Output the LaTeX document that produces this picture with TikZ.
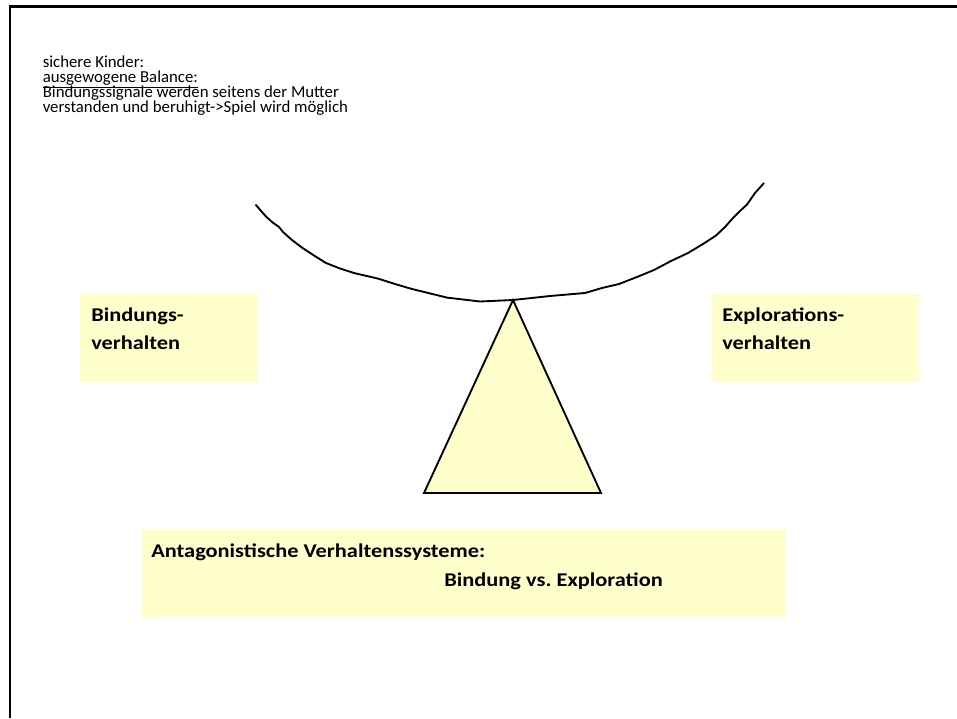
\documentclass[tikz,border=0pt]{standalone}
\usepackage{fontspec}
\setmainfont{Carlito}
\newfontfamily\widesans[FakeStretch=1.15]{Carlito}
\frenchspacing
\definecolor{paleyellow}{HTML}{FFFFCC}
\newcommand{\tightlines}{\lineskiplimit=-100pt\relax}
\begin{document}
\begin{tikzpicture}[x=0.75pt,y=-0.75pt,
  box/.style={fill=paleyellow,draw=none,inner sep=0pt,anchor=north west},
  small/.style={font=\fontsize{12.6}{11.25}\selectfont\tightlines,anchor=base west,inner sep=0pt,align=left},
  lbl/.style={font=\widesans\fontsize{14.6}{21}\selectfont\bfseries\tightlines,anchor=base west,inner sep=0pt,align=left},
  frameline/.style={line width=2.1pt,black}]
\useasboundingbox (0,0) rectangle (957,718);
% frame
\coordinate (fTL) at (10,6.5);
\coordinate (fTR) at (957,6.5);
\coordinate (fBL) at (10,718);
\draw[frameline] (fTR) -- (fTL) -- (fBL);
% top text (base anchor = last line)
\node[small] (intro) at (42.5,112.5) {sichere Kinder:\\\underline{ausgewogene Balance:}\\Bindungssignale werden seitens der Mutter\\verstanden und beruhigt->Spiel wird möglich};
% boxes (sizes in pt: px*0.75)
\node[box,minimum width=133.5pt,minimum height=66pt] (bindbox) at (80,294) {};
\node[box,minimum width=155.25pt,minimum height=66pt] (explbox) at (712,294) {};
\node[box,minimum width=483pt,minimum height=65.25pt] (antbox) at (142,530) {};
\node[lbl] (bind) at (91,349.5) {Bindungs-\\verhalten};
\node[lbl] (expl) at (722,349.5) {Explorations-\\verhalten};
\node[lbl] (a1) at (151,557) {Antagonistische Verhaltenssysteme:};
\node[lbl] (a2) at (444,586) {Bindung vs. Exploration};
% triangle
\coordinate (apex) at (513,300);
\coordinate (bl) at (424,493);
\coordinate (br) at (601,493);
\draw[fill=paleyellow,line width=1.4pt] (apex) -- (bl) -- (br) -- cycle;
% beam
\draw[line width=1.4pt,line join=round]
  (255.5,204.5) -- (262,212) -- (266,216.5) -- (272,222) -- (279,227) -- (283,232)
  -- (292,240) -- (302,247.6) -- (314,255.5) -- (326,263) -- (340,268.5)
  -- (354,273) -- (378,278.6) -- (395,284) -- (412,289) -- (447,297.6) -- (480,301.5) -- (apex)
  -- (550,296) -- (585,293) -- (602,288) -- (619,284) -- (637,277) -- (654,270)
  -- (671,261) -- (688,253) -- (703,244) -- (716,235.5) -- (725,227)
  -- (733,218) -- (740,211) -- (747,204.5) -- (755,193) -- (764,183);
\end{tikzpicture}
\end{document}
